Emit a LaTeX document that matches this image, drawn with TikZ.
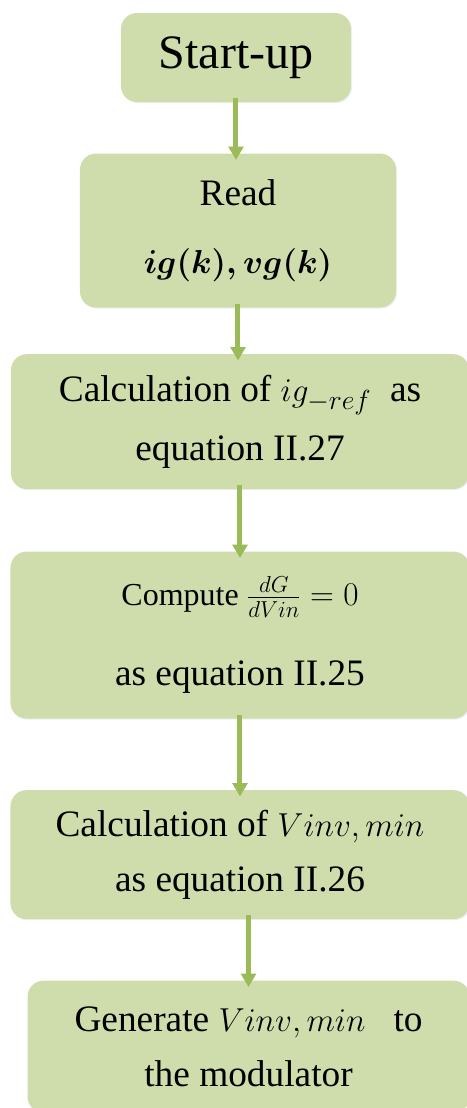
\documentclass[tikz,border=0pt]{standalone}
\usepackage{amsmath}
\usepackage{fontspec}
\setmainfont{Liberation Serif}
\usepackage{tikz}
\usetikzlibrary{arrows.meta, positioning, shadows}
\definecolor{boxgreen}{HTML}{CFDDAC}
\definecolor{arrowgreen}{HTML}{9BBB59}

\begin{document}
\begin{tikzpicture}[
    flowbox/.style={rectangle, rounded corners=12pt, fill=boxgreen, align=center, inner sep=0pt,
        font=\fontsize{28}{41}\selectfont,
        drop shadow={shadow xshift=0.8pt, shadow yshift=-0.8pt, opacity=0.12}},
    arrow/.style={-{Triangle[width=11pt, length=10pt]}, line width=3.75pt, arrowgreen,
        shorten >=-5pt, shorten <=-3pt}]

    \path[use as bounding box, fill=white] (-177pt,43.125pt) rectangle (173.25pt,-787.875pt);

    \node[flowbox, minimum width=172.5pt, minimum height=66.75pt,
        font=\fontsize{36}{43}\selectfont] (start) at (0,0) {Start-up};
    \node[flowbox, minimum width=237pt, minimum height=115.5pt,
        below=38.25pt of start, xshift=1.5pt] (read) {Read\\[10pt] $\boldsymbol{ig(k),vg(k)}$};
    \node[flowbox, minimum width=343.5pt, minimum height=101.25pt,
        below=34.5pt of read, xshift=1.5pt] (igref) {Calculation of $ig_{-ref}$\ \ as\\[3pt] equation II.27};
    \node[flowbox, minimum width=344.25pt, minimum height=125.25pt,
        below=46.5pt of igref] (dgdv) {{\fontsize{24}{29}\selectfont Compute $\frac{dG}{dVin}=0$}\\[19pt] as equation II.25};
    \node[flowbox, minimum width=344.25pt, minimum height=96.75pt,
        below=53.25pt of dgdv] (vinv) {Calculation of $Vinv, min$\\ as equation II.26};
    \node[flowbox, minimum width=331.5pt, minimum height=99pt,
        below=45.75pt of vinv, xshift=6.4pt] (gen) {Generate $Vinv, min$\ \ \ to\\ the modulator};

    \draw[arrow] (start.south) -- (start.south |- read.north);
    \draw[arrow] (read.south) -- (read.south |- igref.north);
    \draw[arrow] (igref) -- (dgdv);
    \draw[arrow] (dgdv) -- (vinv);
    \draw[arrow] (gen.north |- vinv.south) -- (gen.north);
\end{tikzpicture}
\end{document}
